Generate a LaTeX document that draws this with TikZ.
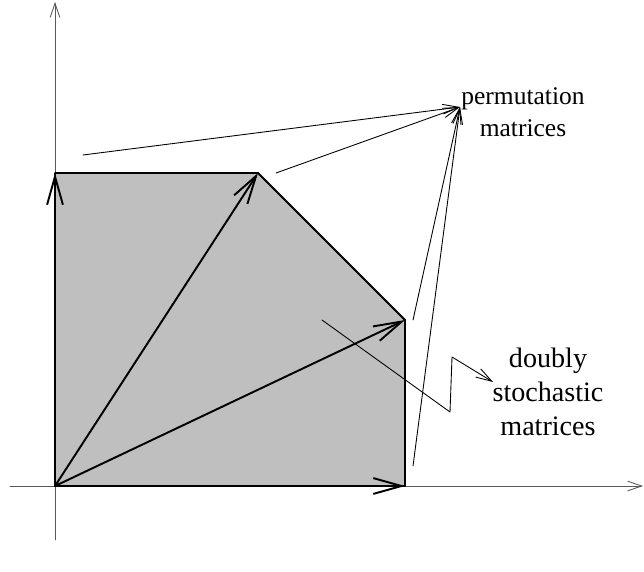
\documentclass[tikz,border=0pt]{standalone}
\usepackage{fontspec}
\setmainfont{Liberation Serif}
\usetikzlibrary{arrows.meta}
\begin{document}
\begin{tikzpicture}[line join=round,line cap=round,font=\fontsize{16}{19.5}\selectfont,
	axis/.style={gray!70!black,line width=0.5pt,-{Straight Barb[length=8pt,width=5.5pt]}},
	edge/.style={line width=1.1pt},
	vec/.style={line width=1.1pt,-{Straight Barb[length=16pt,width=9pt]}},
	pointer/.style={line width=0.5pt,-{Straight Barb[length=9pt,width=5.5pt]}}]
	\useasboundingbox (-1.1,-1.7) rectangle (11.78,9.72);
	\coordinate (O) at (0,0);
	\coordinate (A) at (0,6.26);
	\coordinate (B) at (4.06,6.26);
	\coordinate (C) at (7,3.32);
	\coordinate (D) at (7,0);
	\coordinate (P) at (8.1,7.58);
	\fill[black!25] (O) -- (A) -- (B) -- (C) -- (D) -- cycle;
	\draw[axis] (-0.9,0) -- (11.76,0);
	\draw[axis] (0,-1.08) -- (0,9.68);
	\draw[edge] (O) -- (A) -- (B) -- (C) -- (D) -- cycle;
	\foreach \v in {A,B,C,D} \draw[vec] (O) -- (\v);
	\coordinate (pA) at (0.56,6.62);
	\coordinate (pB) at (4.42,6.26);
	\coordinate (pC) at (7.16,3.32);
	\coordinate (pD) at (7.16,0.4);
	\foreach \p in {pA,pB,pC,pD} \draw[pointer] (\p) -- (P);
	\coordinate (z0) at (5.34,3.32);
	\coordinate (z1) at (7.9,1.48);
	\coordinate (z2) at (7.94,2.58);
	\coordinate (z3) at (8.76,2.08);
	\draw[pointer] (z0) -- (z1) -- (z2) -- (z3);
	\node[align=center,font=\fontsize{14.5}{18}\selectfont] (perm) at (9.36,7.47) {permutation\\matrices};
	\node[align=center] (dsm) at (9.86,1.88) {doubly\\stochastic\\matrices};
\end{tikzpicture}
\end{document}
